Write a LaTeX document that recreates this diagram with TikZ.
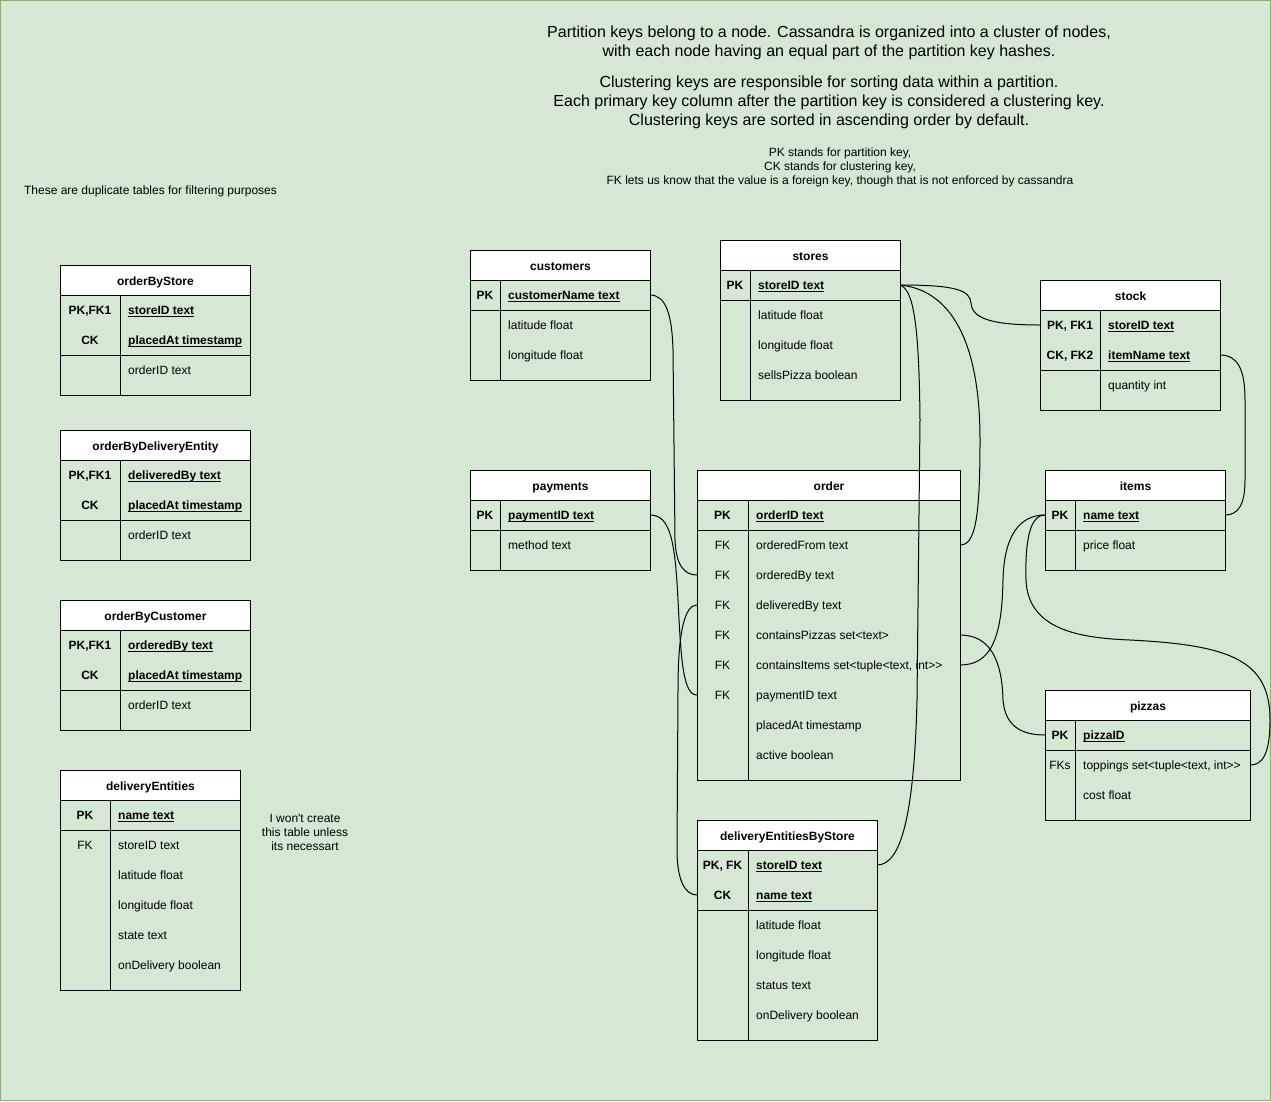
\documentclass[tikz,border=0pt]{standalone}
\usepackage{fontspec}
\setmainfont{Liberation Sans}
\usetikzlibrary{calc}
\definecolor{bgfill}{HTML}{D5E8D4}
\definecolor{bgline}{HTML}{82B366}
\newcommand{\ulx}[1]{\underline{\smash{#1}}}
\newcommand{\kb}[1]{\textbf{#1}}
\newcommand{\fb}[1]{\textbf{\ulx{#1}}}
% name x y w kw h title
\newcommand{\tbl}[7]{%
  \draw[tline] ({#2},{#3+30}) rectangle ({#2+#4},{#3+#6});
  \draw[tline] ({#2+#5},{#3+30}) -- ({#2+#5},{#3+#6});
  \node[hdr, minimum width=#4pt, anchor=north west] (#1) at (#2,#3) {#7};
}
% name x w kw yc key field
\newcommand{\trow}[7]{%
  \node[rowbox, minimum width=#3pt] (#1) at ({#2+#3/2},#5) {};
  \node[cell] (#1-k) at ({#2+#4/2},#5) {#6};
  \node[cell, anchor=west] (#1-f) at ({#2+#4+8},#5) {#7};
}
% x w y
\newcommand{\tsep}[3]{\draw[tline] (#1,#3) -- ({#1+#2},#3);}
\begin{document}
\begin{tikzpicture}[x=1pt, y=-1pt,
  font=\fontsize{12}{14.4}\selectfont,
  tline/.style={line width=1pt, draw=black},
  conn/.style={line width=1pt, draw=black},
  hdr/.style={draw=black, line width=1pt, fill=white, minimum height=30pt, inner sep=0pt, text height=9.5pt, text depth=0pt, font=\fontsize{12}{14.4}\selectfont\bfseries},
  rowbox/.style={minimum height=30pt, inner sep=0pt, outer sep=0pt},
  cell/.style={inner sep=0pt, text height=9.5pt, text depth=0.5pt},
  note/.style={inner sep=0pt, align=center}
]
\useasboundingbox (0,0) rectangle (1271,1101);
\draw[fill=bgfill, draw=bgline, line width=1pt] (0.5,0.5) rectangle (1270.5,1100.5);

% notes
\node[note, font=\fontsize{16}{19.2}\selectfont] (note1) at (829,43) {Partition keys belong to a node. Cassandra is organized into a cluster of nodes,\\with each node having an equal part of the partition key hashes.};
\node[note, font=\fontsize{16}{19.2}\selectfont] (note2) at (829,102.5) {Clustering keys are responsible for sorting data within a partition.\\Each primary key column after the partition key is considered a clustering key.\\Clustering keys are sorted in ascending order by default.};
\node[note, font=\fontsize{12}{14}\selectfont] (note3) at (840,167) {PK stands for partition key,\\CK stands for clustering key,\\FK lets us know that the value is a foreign key, though that is not enforced by cassandra};
\node[note] (note4) at (150.5,191) {These are duplicate tables for filtering purposes};
\node[note, font=\fontsize{12}{14}\selectfont] (note5) at (305,832) {I won\textquotesingle t create\\this table unless\\its necessart};

% orderByStore
\tbl{obs}{60}{265}{190}{60}{130}{orderByStore}
\trow{obs-pk}{60}{190}{60}{310}{\kb{PK,FK1}}{\fb{storeID text}}
\trow{obs-ck}{60}{190}{60}{340}{\kb{CK}}{\fb{placedAt timestamp}}
\tsep{60}{190}{355}
\trow{obs-oid}{60}{190}{60}{370}{}{orderID text}

% orderByDeliveryEntity
\tbl{obd}{60}{430}{190}{60}{130}{orderByDeliveryEntity}
\trow{obd-pk}{60}{190}{60}{475}{\kb{PK,FK1}}{\fb{deliveredBy text}}
\trow{obd-ck}{60}{190}{60}{505}{\kb{CK}}{\fb{placedAt timestamp}}
\tsep{60}{190}{520}
\trow{obd-oid}{60}{190}{60}{535}{}{orderID text}

% orderByCustomer
\tbl{obc}{60}{600}{190}{60}{130}{orderByCustomer}
\trow{obc-pk}{60}{190}{60}{645}{\kb{PK,FK1}}{\fb{orderedBy text}}
\trow{obc-ck}{60}{190}{60}{675}{\kb{CK}}{\fb{placedAt timestamp}}
\tsep{60}{190}{690}
\trow{obc-oid}{60}{190}{60}{705}{}{orderID text}

% deliveryEntities
\tbl{de}{60}{770}{180}{50}{220}{deliveryEntities}
\trow{de-pk}{60}{180}{50}{815}{\kb{PK}}{\fb{name text}}
\tsep{60}{180}{830}
\trow{de-sid}{60}{180}{50}{845}{FK}{storeID text}
\trow{de-lat}{60}{180}{50}{875}{}{latitude float}
\trow{de-lon}{60}{180}{50}{905}{}{longitude float}
\trow{de-st}{60}{180}{50}{935}{}{state text}
\trow{de-od}{60}{180}{50}{965}{}{onDelivery boolean}

% customers
\tbl{customers}{470}{250}{180}{30}{130}{customers}
\trow{customers-pk}{470}{180}{30}{295}{\kb{PK}}{\fb{customerName text}}
\tsep{470}{180}{310}
\trow{customers-lat}{470}{180}{30}{325}{}{latitude float}
\trow{customers-lon}{470}{180}{30}{355}{}{longitude float}

% payments
\tbl{payments}{470}{470}{180}{30}{100}{payments}
\trow{payments-pk}{470}{180}{30}{515}{\kb{PK}}{\fb{paymentID text}}
\tsep{470}{180}{530}
\trow{payments-m}{470}{180}{30}{545}{}{method text}

% stores
\tbl{stores}{720}{240}{180}{30}{160}{stores}
\trow{stores-pk}{720}{180}{30}{285}{\kb{PK}}{\fb{storeID text}}
\tsep{720}{180}{300}
\trow{stores-lat}{720}{180}{30}{315}{}{latitude float}
\trow{stores-lon}{720}{180}{30}{345}{}{longitude float}
\trow{stores-sp}{720}{180}{30}{375}{}{sellsPizza boolean}

% stock
\tbl{stock}{1040}{280}{180}{60}{130}{stock}
\trow{stock-pk}{1040}{180}{60}{325}{\kb{PK, FK1}}{\fb{storeID text}}
\trow{stock-ck}{1040}{180}{60}{355}{\kb{CK, FK2}}{\fb{itemName text}}
\tsep{1040}{180}{370}
\trow{stock-q}{1040}{180}{60}{385}{}{quantity int}

% order
\tbl{order}{697}{470}{263}{51}{310}{order}
\trow{order-pk}{697}{263}{51}{515}{\kb{PK}}{\fb{orderID text}}
\tsep{697}{263}{530}
\trow{order-from}{697}{263}{51}{545}{FK}{orderedFrom text}
\trow{order-by}{697}{263}{51}{575}{FK}{orderedBy text}
\trow{order-dby}{697}{263}{51}{605}{FK}{deliveredBy text}
\trow{order-pizzas}{697}{263}{51}{635}{FK}{containsPizzas set<text>}
\trow{order-items}{697}{263}{51}{665}{FK}{containsItems set<tuple<text, int>{}>}
\trow{order-pay}{697}{263}{51}{695}{FK}{paymentID text}
\trow{order-placed}{697}{263}{51}{725}{}{placedAt timestamp}
\trow{order-active}{697}{263}{51}{755}{}{active boolean}

% items
\tbl{items}{1045}{470}{180}{30}{100}{items}
\trow{items-pk}{1045}{180}{30}{515}{\kb{PK}}{\fb{name text}}
\tsep{1045}{180}{530}
\trow{items-price}{1045}{180}{30}{545}{}{price float}

% pizzas
\tbl{pizzas}{1045}{690}{205}{30}{130}{pizzas}
\trow{pizzas-pk}{1045}{205}{30}{735}{\kb{PK}}{\fb{pizzaID}}
\tsep{1045}{205}{750}
\trow{pizzas-top}{1045}{205}{30}{765}{FKs}{toppings set<tuple<text, int>{}>}
\trow{pizzas-cost}{1045}{205}{30}{795}{}{cost float}

% deliveryEntitiesByStore
\tbl{debs}{697}{820}{180}{51}{220}{deliveryEntitiesByStore}
\trow{debs-pk}{697}{180}{51}{865}{\kb{PK, FK}}{\fb{storeID text}}
\trow{debs-ck}{697}{180}{51}{895}{\kb{CK}}{\fb{name text}}
\tsep{697}{180}{910}
\trow{debs-lat}{697}{180}{51}{925}{}{latitude float}
\trow{debs-lon}{697}{180}{51}{955}{}{longitude float}
\trow{debs-st}{697}{180}{51}{985}{}{status text}
\trow{debs-od}{697}{180}{51}{1015}{}{onDelivery boolean}

% connectors
\draw[conn] (customers-pk.east) .. controls (666,295) and (672,315) .. (673,350) -- (675,540) .. controls (676,565) and (684,575) .. (order-by.west);
\draw[conn] (payments-pk.east) .. controls (670,515) and (675,540) .. (678,600) .. controls (681,660) and (683,695) .. (order-pay.west);
\draw[conn] (order-dby.west) .. controls (685,605) and (678,630) .. (678,690) -- (677,850) .. controls (677,880) and (685,895) .. (debs-ck.west);
\draw[conn] (stores-pk.east) .. controls (955,285) and (970,290) .. (971,303) .. controls (972,318) and (990,325) .. (stock-pk.west);
\draw[conn] (stores-pk.east) .. controls (950,290) and (980,340) .. (980,440) .. controls (980,520) and (975,545) .. (order-from.east);
\draw[conn] (stores-pk.east) .. controls (913,290) and (919,320) .. (920,420) -- (917,700) .. controls (914,820) and (900,865) .. (debs-pk.east);
\draw[conn] (stock-ck.east) .. controls (1238,355) and (1245,370) .. (1245,400) -- (1245,480) .. controls (1245,505) and (1238,515) .. (items-pk.east);
\draw[conn] (items-pk.west) .. controls (1020,515) and (1004,535) .. (1003,580) .. controls (1002,640) and (990,665) .. (order-items.east);
\draw[conn] (items-pk.west) .. controls (1030,515) and (1025,540) .. (1026,580) .. controls (1028,630) and (1080,638) .. (1130,640) .. controls (1230,645) and (1270,660) .. (1270,720) .. controls (1270,755) and (1262,765) .. (pizzas-top.east);
\draw[conn] (order-pizzas.east) .. controls (990,635) and (1002,660) .. (1003,700) .. controls (1005,725) and (1020,735) .. (pizzas-pk.west);
\end{tikzpicture}
\end{document}
